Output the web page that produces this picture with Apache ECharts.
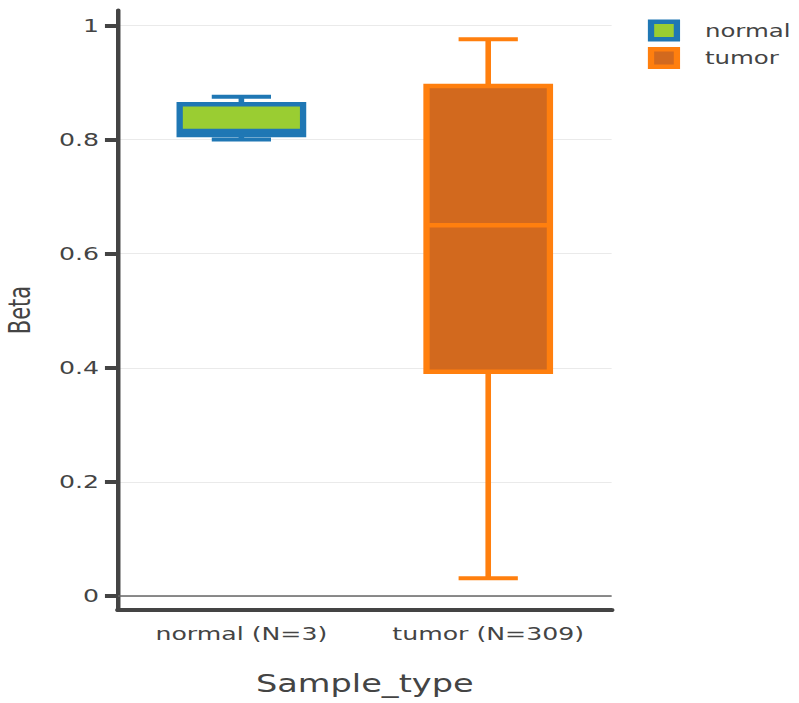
<!DOCTYPE html>
<html><head><meta charset="utf-8">
<script src="https://cdn.jsdelivr.net/npm/echarts@6/dist/echarts.min.js"></script>
<style>
html,body{margin:0;padding:0;background:#fff;overflow:hidden;width:799px;height:703px}
#c{width:571px;height:703px;transform:scaleX(1.3993);transform-origin:0 0}
</style>
</head><body><div id="c"></div>
<script>
const categories = ['normal (N=3)', 'tumor (N=309)'];
const seriesNames = ['normal', 'tumor'];
// [min, q1, median, q3, max]
const normalStats = [0.800, 0.808, 0.815, 0.862, 0.875];
const tumorStats = [0.031, 0.393, 0.650, 0.894, 0.976];
const yTicks = [0, 0.2, 0.4, 0.6, 0.8, 1];
const fills = ['#9acd32', '#d2691e'];
const strokes = ['#1f77b4', '#ff7f0e'];

const chart = echarts.init(document.getElementById('c'), null, { renderer: 'svg' });
const font = '"DejaVu Sans", Verdana, sans-serif';

function renderBox(params, api) {
  const x = api.value(0);
  const pMin = api.coord([x, api.value(1)]);
  const pQ1 = api.coord([x, api.value(2)]);
  const pMed = api.coord([x, api.value(3)]);
  const pQ3 = api.coord([x, api.value(4)]);
  const pMax = api.coord([x, api.value(5)]);
  const band = api.size([1, 0])[0];
  const bw = band * 0.5;
  const cw = bw * 0.48;
  const cx = pMed[0];
  const i = params.seriesIndex;
  const lineStyle = { stroke: strokes[i], lineWidth: 4, fill: null };
  return {
    type: 'group',
    children: [
      { type: 'line', shape: { x1: cx, y1: pQ3[1], x2: cx, y2: pMax[1] }, style: lineStyle },
      { type: 'line', shape: { x1: cx, y1: pQ1[1], x2: cx, y2: pMin[1] }, style: lineStyle },
      { type: 'line', shape: { x1: cx - cw / 2, y1: pMax[1], x2: cx + cw / 2, y2: pMax[1] }, style: lineStyle },
      { type: 'line', shape: { x1: cx - cw / 2, y1: pMin[1], x2: cx + cw / 2, y2: pMin[1] }, style: lineStyle },
      { type: 'rect', shape: { x: cx - bw / 2, y: pQ3[1], width: bw, height: pQ1[1] - pQ3[1] },
        style: { fill: fills[i], stroke: strokes[i], lineWidth: 4.5 } },
      { type: 'line', shape: { x1: cx - bw / 2, y1: pMed[1], x2: cx + bw / 2, y2: pMed[1] }, style: { stroke: strokes[i], lineWidth: 4.5 } }
    ]
  };
}

const option = {
  animation: false,
  backgroundColor: '#fff',
  grid: { left: 84.3, right: 133.9, top: 10, bottom: 93, containLabel: false, outerBoundsMode: 'none' },
  legend: {
    orient: 'vertical', left: 458, top: 14.5, itemGap: 5.5,
    icon: 'rect', itemWidth: 18.5, itemHeight: 17.5,
    textStyle: { fontFamily: font, fontSize: 17.5, color: '#444', padding: [0, 0, 0, 15] },
    data: seriesNames.map((n, i) => ({ name: n, itemStyle: { color: fills[i], borderColor: strokes[i], borderWidth: 4.5 } }))
  },
  xAxis: {
    type: 'category', data: categories,
    name: 'Sample_type', nameLocation: 'middle', nameGap: 62,
    nameTextStyle: { fontFamily: font, fontSize: 24, color: '#444' },
    axisLine: { onZero: false, lineStyle: { color: '#444', width: 4 } },
    axisTick: { alignWithLabel: true, interval: 0, length: 8, lineStyle: { color: '#444', width: 3 } },
    axisLabel: { fontFamily: font, fontSize: 18, color: '#444', margin: 15, interval: 0, hideOverlap: false },
    splitLine: { show: false }
  },
  yAxis: {
    type: 'value', min: -0.02454, max: 1.02717,
    name: 'Beta', nameLocation: 'middle', nameGap: 60,
    nameTextStyle: { fontFamily: font, fontSize: 21, color: '#444' },
    axisLine: { show: true, lineStyle: { color: '#444', width: 3.2 } },
    axisTick: { show: true, length: 9.3, customValues: yTicks, lineStyle: { color: '#444', width: 4 } },
    axisLabel: { fontFamily: font, fontSize: 18, color: '#444', margin: 13.5, customValues: yTicks,
      formatter: v => String(Math.round(v * 10) / 10) },
    splitLine: { show: true, lineStyle: { color: '#eaeaea', width: 1 } }
  },
  series: [
    { type: 'custom', name: 'normal', renderItem: renderBox,
      itemStyle: { color: fills[0], borderColor: strokes[0] },
      encode: { x: 0, y: [1, 2, 3, 4, 5] },
      data: [[0].concat(normalStats)],
      markLine: { silent: true, symbol: 'none', label: { show: false },
        lineStyle: { color: '#666', width: 1.5, type: 'solid' }, data: [{ yAxis: 0 }] } },
    { type: 'custom', name: 'tumor', renderItem: renderBox,
      itemStyle: { color: fills[1], borderColor: strokes[1] },
      encode: { x: 0, y: [1, 2, 3, 4, 5] },
      data: [[1].concat(tumorStats)] }
  ]
};
chart.setOption(option);
</script></body></html>
